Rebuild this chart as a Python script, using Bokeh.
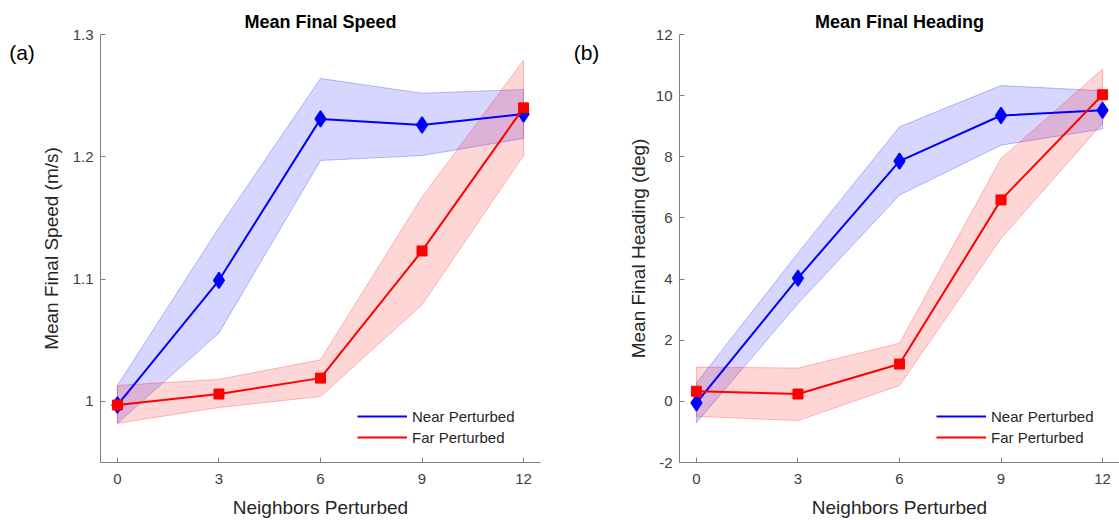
from bokeh.plotting import figure
from bokeh.layouts import row
from bokeh.models import Legend, LegendItem, FixedTicker, Range1d
from bokeh.core.properties import value
from bokeh.embed import file_html
from bokeh.resources import INLINE

# ---------------- data ----------------
neighbors = [0, 3, 6, 9, 12]
x_ticks = [0, 3, 6, 9, 12]

speed_near = [0.997, 1.099, 1.231, 1.226, 1.235]
speed_near_lo = [0.982, 1.056, 1.197, 1.201, 1.215]
speed_near_hi = [1.013, 1.142, 1.264, 1.252, 1.255]
speed_far = [0.997, 1.006, 1.019, 1.123, 1.240]
speed_far_lo = [0.982, 0.995, 1.004, 1.079, 1.201]
speed_far_hi = [1.013, 1.018, 1.034, 1.167, 1.279]
speed_ticks = [1.0, 1.1, 1.2, 1.3]
speed_tick_labels = ["1", "1.1", "1.2", "1.3"]

heading_near = [-0.05, 4.03, 7.86, 9.35, 9.52]
heading_near_lo = [-0.70, 3.20, 6.75, 8.38, 8.91]
heading_near_hi = [0.60, 4.85, 8.98, 10.33, 10.16]
heading_far = [0.33, 0.24, 1.22, 6.59, 10.03]
heading_far_lo = [-0.49, -0.63, 0.52, 5.33, 9.10]
heading_far_hi = [1.12, 1.09, 1.90, 7.94, 10.87]
heading_ticks = [-2, 0, 2, 4, 6, 8, 10, 12]
heading_tick_labels = ["-2", "0", "2", "4", "6", "8", "10", "12"]

series_names = ["Near Perturbed", "Far Perturbed"]
panel_letters = ["(a)", "(b)"]
FONT = "Liberation Sans"
BLUE = "#0000ff"
RED = "#ff0000"


def letter_fig(width, letter, cx):
    # narrow strip that carries the panel letter
    f = figure(width=width, height=520, x_range=Range1d(0, width),
               y_range=Range1d(520, 0), output_backend="svg",
               toolbar_location=None, min_border=0,
               x_axis_location=None, y_axis_location=None)
    f.grid.visible = False
    f.outline_line_color = None
    f.text(x=[cx], y=[22], text=[letter], text_font=value(FONT),
           text_font_size="21px", text_color="#000000",
           text_align="center", text_baseline="middle")
    return f


def panel(width, border_left, border_right, y_lo, y_hi, yticks, ytick_labels,
          near, near_lo, near_hi, far, far_lo, far_hi, title, ylabel,
          ylabel_standoff):
    p = figure(width=width, height=520, x_range=Range1d(-0.5, 12.5),
               y_range=Range1d(y_lo, y_hi), output_backend="svg",
               toolbar_location=None, min_border_left=border_left,
               min_border_right=border_right, min_border_top=34,
               min_border_bottom=58)
    p.grid.visible = False
    p.outline_line_color = None
    p.background_fill_color = "white"
    p.border_fill_color = "white"

    p.title.text = title
    p.title.align = "center"
    p.title.text_font = FONT
    p.title.text_font_size = "18px"
    p.title.text_font_style = "bold"
    p.title.text_color = "#000000"
    p.title.standoff = 5

    for ax in (p.xaxis[0], p.yaxis[0]):
        ax.axis_line_color = "#808080"
        ax.major_tick_line_color = "#808080"
        ax.major_tick_in = 5
        ax.major_tick_out = 0
        ax.minor_tick_line_color = None
        ax.major_label_text_font = FONT
        ax.major_label_text_font_size = "15px"
        ax.major_label_text_color = "#404040"
        ax.axis_label_text_font = FONT
        ax.axis_label_text_font_size = "19px"
        ax.axis_label_text_font_style = "normal"
        ax.axis_label_text_color = "#262626"
    p.xaxis[0].ticker = FixedTicker(ticks=x_ticks)
    p.xaxis[0].major_label_standoff = 11
    p.xaxis[0].axis_label = "Neighbors Perturbed"
    p.xaxis[0].axis_label_standoff = 10
    p.yaxis[0].ticker = FixedTicker(ticks=yticks)
    p.yaxis[0].major_label_overrides = {t: l for t, l in zip(yticks, ytick_labels)}
    p.yaxis[0].major_label_standoff = 7
    p.yaxis[0].axis_label = ylabel
    p.yaxis[0].axis_label_standoff = ylabel_standoff

    # shaded bands
    for lo, hi, col in ((near_lo, near_hi, BLUE), (far_lo, far_hi, RED)):
        p.patch(neighbors + neighbors[::-1], hi + lo[::-1], fill_color=col,
                fill_alpha=0.16, line_color=col, line_alpha=0.25, line_width=1)

    near_line = p.line(neighbors, near, line_color=BLUE, line_width=2)
    p.scatter(neighbors, near, marker="diamond", size=16, fill_color=BLUE,
              line_color=BLUE, line_width=1.5)
    far_line = p.line(neighbors, far, line_color=RED, line_width=2)
    p.scatter(neighbors, far, marker="square", size=10, fill_color=RED,
              line_color=RED, line_width=1)

    legend = Legend(items=[LegendItem(label=series_names[0], renderers=[near_line]),
                           LegendItem(label=series_names[1], renderers=[far_line])],
                    location=(257, 15), border_line_color=None,
                    background_fill_alpha=0, padding=0, spacing=1, margin=0,
                    glyph_width=50, glyph_height=20, label_height=20,
                    label_standoff=5, label_text_font=FONT,
                    label_text_font_size="15px", label_text_color="#262626")
    p.add_layout(legend)
    return p


fa = letter_fig(36, panel_letters[0], 21.5)
p1 = panel(524, 64, 20, 0.95, 1.3, speed_ticks, speed_tick_labels,
           speed_near, speed_near_lo, speed_near_hi,
           speed_far, speed_far_lo, speed_far_hi,
           "Mean Final Speed", "Mean Final Speed (m/s)", 8)
fb = letter_fig(40, panel_letters[1], 26)
p2 = panel(519, 79, 0, -2, 12, heading_ticks, heading_tick_labels,
           heading_near, heading_near_lo, heading_near_hi,
           heading_far, heading_far_lo, heading_far_hi,
           "Mean Final Heading", "Mean Final Heading (deg)", 4)

layout = row(fa, p1, fb, p2)
open("out.html", "w").write(file_html(layout, INLINE))
